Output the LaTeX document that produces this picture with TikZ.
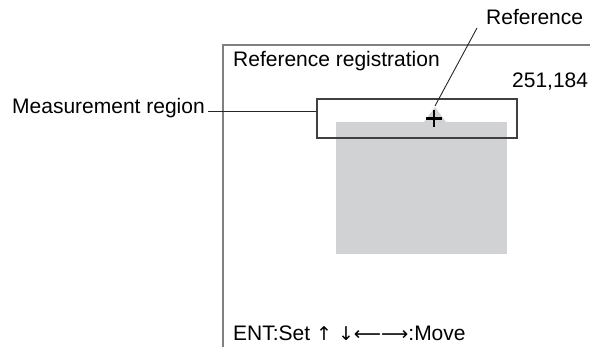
\documentclass[tikz,border=0pt]{standalone}
\usepackage{fontspec}
\usetikzlibrary{calc}
\setmainfont{Liberation Sans}
\newfontfamily\arrowfont{DejaVu Sans}
\definecolor{panel}{HTML}{D1D2D4}
\definecolor{frame}{HTML}{808080}
\begin{document}
\begin{tikzpicture}[x=1pt,y=-1pt,
  lbl/.style={inner sep=0pt, font=\fontsize{21}{25}\selectfont},
  leader/.style={draw=black!85, line width=0.9pt}]
\useasboundingbox (0,0) rectangle (590,347);
\clip (0,0) rectangle (590,347);
% screen frame
\draw[frame, line width=1.6pt] (223,347) -- (223,45) -- (591,45);
% gray object
\fill[panel] (336,122) rectangle (507,254);
\fill[panel] (424,122) -- (435,107) -- (446,122) -- cycle;
% measurement region
\node[draw=black!75, line width=1.3pt, minimum width=200pt, minimum height=39pt, inner sep=0pt] (mr) at (417,118.5) {};
% reference cross
\coordinate (cx) at (434,118.5);
\draw[line width=2.6pt] ($(cx)+(-8,0)$) -- ($(cx)+(8,0)$);
\draw[line width=2.6pt] ($(cx)+(0,-8.5)$) -- ($(cx)+(0,8.5)$);
\coordinate (ctop) at (435,106);
% texts
\node[lbl, anchor=base west] (reg) at (233,67) {Reference registration};
\node[lbl, anchor=base west] (xy) at (512,88) {251,184};
\node[lbl, anchor=base west] (refp) at (486,24.5) {Reference point};
\node[lbl, anchor=base east] (meas) at (205,114) {Measurement region};
\node[lbl, anchor=base west] (keys) at (233,341) {ENT:Set {\arrowfont\fontsize{19}{22}\selectfont ↑ ↓⟵⟶}:Move};
% leaders
\coordinate (ml) at (208,111);
\draw[leader] (ml) -- (ml -| mr.west);
\coordinate (rl) at (477,28);
\draw[leader] (ctop) -- (rl);
\end{tikzpicture}
\end{document}
